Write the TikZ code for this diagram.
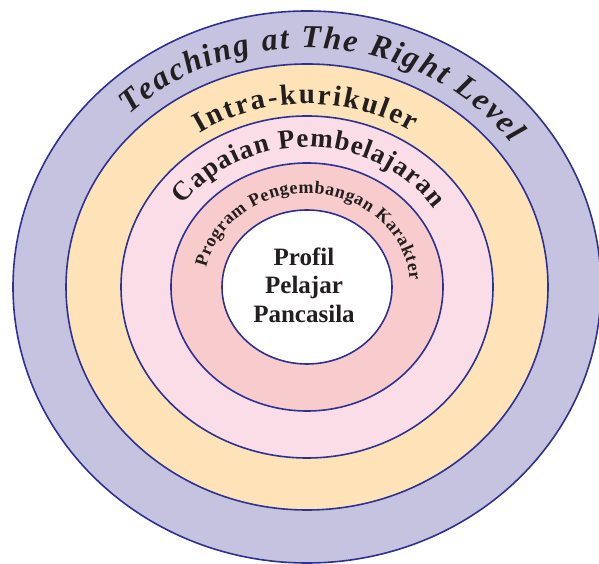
\documentclass[tikz,border=0pt]{standalone}
\usepackage{fontspec}
\setmainfont{Liberation Serif}
\usepackage{xcolor}
\usetikzlibrary{decorations.text}

\definecolor{ringline}{HTML}{2E3192}
\definecolor{tarlfill}{HTML}{C6C3E1}
\definecolor{intrafill}{HTML}{FEE3B9}
\definecolor{cpfill}{HTML}{FBDDE7}
\definecolor{ppkfill}{HTML}{F8CBCD}
\definecolor{labeltext}{HTML}{231F20}

\tikzset{
  ring/.style={draw=ringline, line width=1.6pt},
  bandlabel/.style={decorate, decoration={text along path, text align=fit to path, text color=labeltext, text={#1}}}
}

\begin{document}
\begin{tikzpicture}[x=1pt, y=1pt]
\useasboundingbox (0,0) rectangle (599,564);
\clip (0,0) rectangle (599,564);
\coordinate (c) at (307,277);

% rings, outside in
\draw[ring, fill=tarlfill] (c) ellipse [x radius=294pt, y radius=276pt];
\draw[ring, fill=intrafill] (c) ellipse [x radius=241pt, y radius=223pt];
\draw[ring, fill=cpfill] (c) ellipse [x radius=186pt, y radius=171pt];
\draw[ring, fill=ppkfill] (c) ellipse [x radius=136pt, y radius=124pt];
\draw[ring, fill=white] (c) ellipse [x radius=85pt, y radius=77pt];

% curved labels
\path[bandlabel={|\fontsize{32}{32}\selectfont\bfseries\itshape|Teaching at The Right Level}]
  (c) ++(134:256pt and 239pt) arc[start angle=134, end angle=37, x radius=256pt, y radius=239pt];
\path[bandlabel={|\fontsize{29}{29}\selectfont\bfseries|Intra-kurikuler}]
  (c) ++(123:198pt and 183pt) arc[start angle=123, end angle=58, x radius=198pt, y radius=183pt];
\path[bandlabel={|\fontsize{27}{27}\selectfont\bfseries|Capaian Pembelajaran}]
  (c) ++(144:153pt and 140pt) arc[start angle=144, end angle=34, x radius=153pt, y radius=140pt];
\path[bandlabel={|\fontsize{18}{18}\selectfont\bfseries|Program Pengembangan Karakter}]
  (c) ++(168:103pt and 94pt) arc[start angle=168, end angle=4, x radius=103pt, y radius=94pt];

\node[align=center, text=labeltext, font=\fontsize{25}{28.5}\selectfont\bfseries] (profil) at (304,279) {Profil\\Pelajar\\Pancasila};
\end{tikzpicture}
\end{document}
